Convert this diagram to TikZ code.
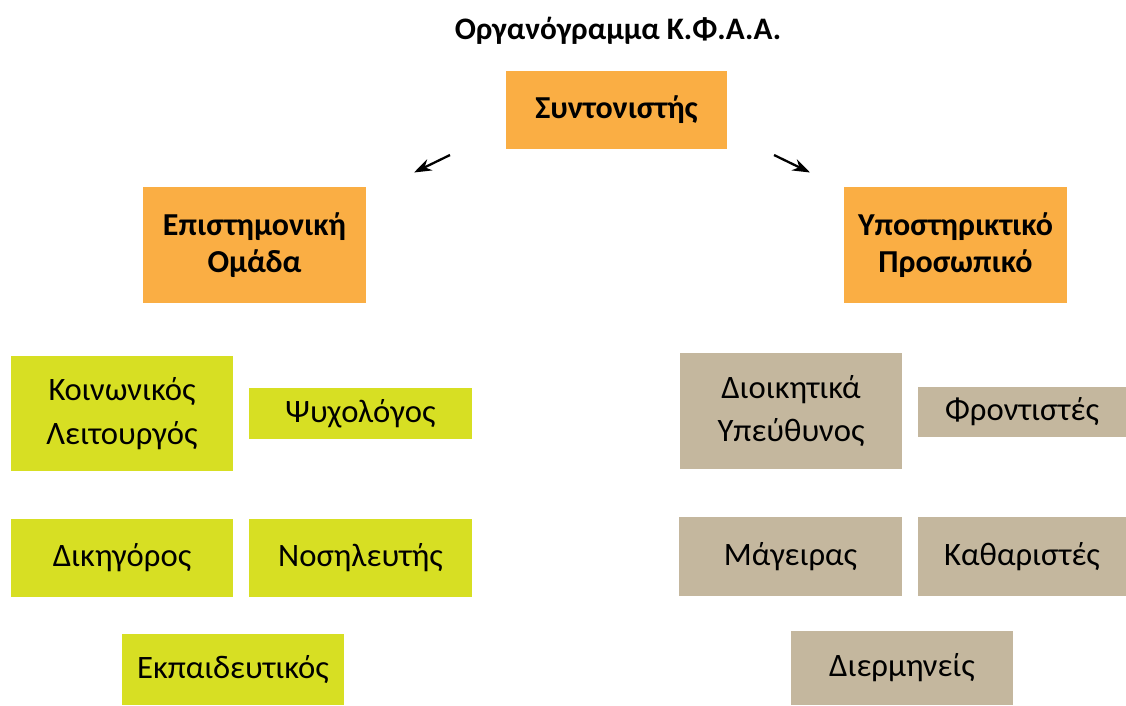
\documentclass[tikz,border=0pt]{standalone}
\usepackage{fontspec}
\setmainfont{Carlito}
\usepackage{xcolor}
\usetikzlibrary{arrows.meta}

\definecolor{headorange}{RGB}{250,174,68}
\definecolor{scigreen}{RGB}{215,223,35}
\definecolor{suptan}{RGB}{196,183,158}

\begin{document}
\begin{tikzpicture}[
    box/.style={inner sep=0pt, align=center, font=\fontsize{18.6}{25}\selectfont},
    headbox/.style={box, fill=headorange, font=\fontsize{18.2}{21.5}\selectfont\bfseries},
    scibox/.style={box, fill=scigreen},
    supbox/.style={box, fill=suptan},
    pointer/.style={line width=1.3pt, -{Stealth[length=10pt,width=7pt]}}]
  \useasboundingbox (0,0) rectangle (22.52,-14.1);
  % title and top
  \node[font=\fontsize{17.8}{21}\selectfont\bfseries] (title) at (12.36,-0.62) {Οργανόγραμμα Κ.Φ.Α.Α.};
  \node[headbox, minimum width=4.42cm, minimum height=1.56cm] (coord) at (12.33,-2.2) {Συντονιστής};
  \node[headbox, minimum width=4.46cm, minimum height=2.32cm] (sci) at (5.09,-4.9) {Επιστημονική\\Ομάδα};
  \node[headbox, minimum width=4.46cm, minimum height=2.32cm] (sup) at (19.11,-4.9) {Υποστηρικτικό\\Προσωπικό};
  \coordinate (lfrom) at (9.0,-3.1);
  \coordinate (lto) at (8.28,-3.45);
  \coordinate (rfrom) at (15.48,-3.1);
  \coordinate (rto) at (16.2,-3.45);
  \draw[pointer] (lfrom) -- (lto);
  \draw[pointer] (rfrom) -- (rto);
  % scientific team
  \node[scibox, minimum width=4.44cm, minimum height=2.3cm] (social) at (2.44,-8.27) {Κοινωνικός\\Λειτουργός};
  \node[scibox, minimum width=4.46cm, minimum height=1.02cm] (psych) at (7.21,-8.27) {Ψυχολόγος};
  \node[scibox, minimum width=4.44cm, minimum height=1.56cm] (lawyer) at (2.44,-11.16) {Δικηγόρος};
  \node[scibox, minimum width=4.46cm, minimum height=1.56cm] (nurse) at (7.21,-11.16) {Νοσηλευτής};
  \node[scibox, minimum width=4.44cm, minimum height=1.42cm] (teacher) at (4.66,-13.39) {Εκπαιδευτικός};
  % support staff
  \node[supbox, minimum width=4.44cm, minimum height=2.32cm] (admin) at (15.82,-8.22) {Διοικητικά\\Υπεύθυνος};
  \node[supbox, minimum width=4.16cm, minimum height=1.0cm] (carer) at (20.44,-8.24) {Φροντιστές};
  \node[supbox, minimum width=4.46cm, minimum height=1.58cm] (cook) at (15.81,-11.13) {Μάγειρας};
  \node[supbox, minimum width=4.16cm, minimum height=1.58cm] (cleaner) at (20.44,-11.13) {Καθαριστές};
  \node[supbox, minimum width=4.44cm, minimum height=1.48cm] (interp) at (18.04,-13.36) {Διερμηνείς};
\end{tikzpicture}
\end{document}
